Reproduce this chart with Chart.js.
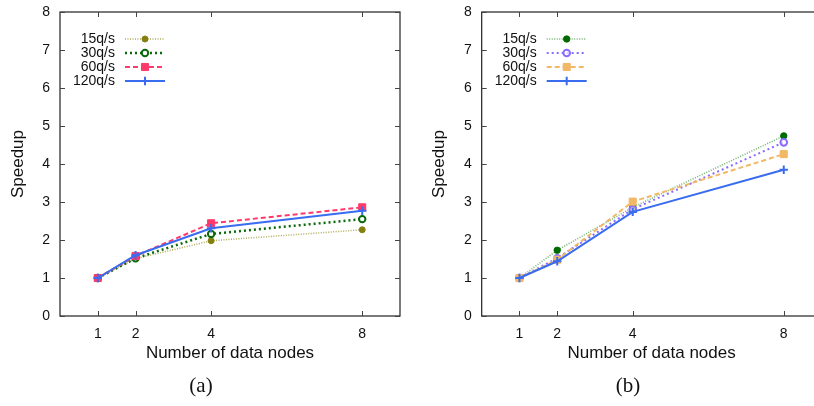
<!DOCTYPE html>
<html>
<head>
<meta charset="utf-8">
<script src="https://cdn.jsdelivr.net/npm/chart.js@4"></script>
<style>
  html, body { margin: 0; padding: 0; background: #fff; }
  body { width: 814px; height: 406px; overflow: hidden; position: relative; }
  .panel { position: absolute; top: 0; width: 420px; height: 406px; }
  .caption { position: absolute; top: 373px; font-family: "Liberation Serif", "DejaVu Serif", serif; font-size: 21px; color: #111; transform: translateX(-50%); }
</style>
</head>
<body>
<div class="panel" style="left:0"><canvas id="chartA" width="420" height="406"></canvas></div>
<div class="panel" style="left:420px"><canvas id="chartB" width="420" height="406"></canvas></div>
<div class="caption" style="left:201px">(a)</div>
<div class="caption" style="left:628px">(b)</div>
<script>
// x positions: number of data nodes
const nodes = [1, 2, 4, 8];
const seriesLabels = ['15q/s', '30q/s', '60q/s', '120q/s'];

// panel (a)
const speedupA15 = [1.00, 1.51, 1.98, 2.27];
const speedupA30 = [1.00, 1.52, 2.16, 2.55];
const speedupA60 = [1.00, 1.58, 2.44, 2.86];
const speedupA120 = [1.00, 1.60, 2.31, 2.77];

// panel (b)
const speedupB15 = [1.00, 1.73, 2.86, 4.74];
const speedupB30 = [1.00, 1.52, 2.81, 4.57];
const speedupB60 = [1.00, 1.48, 3.01, 4.26];
const speedupB120 = [1.00, 1.44, 2.74, 3.85];

const yTickValues = [0, 1, 2, 3, 4, 5, 6, 7, 8];
const xTickValues = [1, 2, 4, 8];

const SANS = '"Liberation Sans", Arial, Helvetica, sans-serif';

function toPoints(values) {
  return nodes.map((n, i) => ({ x: n, y: values[i] }));
}

// Frame, inward ticks on all four sides, axis titles and the key
const framePlugin = {
  id: 'gnuplotFrame',
  afterDraw(chart) {
    const { ctx, chartArea: a, scales } = chart;
    const xs = scales.x, ys = scales.y;
    ctx.save();
    ctx.strokeStyle = '#222';
    ctx.lineWidth = 1.2;
    ctx.setLineDash([]);
    ctx.strokeRect(a.left, a.top, a.right - a.left, a.bottom - a.top);
    ctx.lineWidth = 1;
    ctx.strokeStyle = '#444';
    const tl = 5;
    ctx.beginPath();
    yTickValues.forEach(v => {
      const y = Math.round(ys.getPixelForValue(v)) + 0.5;
      ctx.moveTo(a.left, y); ctx.lineTo(a.left + tl, y);
      ctx.moveTo(a.right, y); ctx.lineTo(a.right - tl, y);
    });
    xTickValues.forEach(v => {
      const x = Math.round(xs.getPixelForValue(v)) + 0.5;
      ctx.moveTo(x, a.bottom); ctx.lineTo(x, a.bottom - tl);
      ctx.moveTo(x, a.top); ctx.lineTo(x, a.top + tl);
    });
    ctx.stroke();

    // axis titles
    ctx.fillStyle = '#111';
    ctx.font = '17px ' + SANS;
    ctx.textAlign = 'center';
    ctx.textBaseline = 'middle';
    ctx.fillText('Number of data nodes', (a.left + a.right) / 2, 353);
    ctx.save();
    ctx.translate(a.left - 42, (a.top + a.bottom) / 2);
    ctx.rotate(-Math.PI / 2);
    ctx.fillText('Speedup', 0, 0);
    ctx.restore();

    // key: right-aligned labels followed by line samples
    ctx.font = '14px ' + SANS;
    ctx.textAlign = 'right';
    chart.data.datasets.forEach((ds, i) => {
      const y = a.top + 27 + i * 14;
      ctx.fillStyle = '#111';
      ctx.fillText(ds.label, a.left + 55, y);
      ctx.strokeStyle = ds.borderColor;
      ctx.lineWidth = ds.borderWidth;
      ctx.setLineDash(ds.borderDash || []);
      ctx.beginPath();
      ctx.moveTo(a.left + 65, y);
      ctx.lineTo(a.left + 105, y);
      ctx.stroke();
      ctx.setLineDash([]);
      ctx.fillStyle = ds.pointBackgroundColor;
      ctx.strokeStyle = ds.pointBorderColor;
      ctx.lineWidth = ds.pointBorderWidth;
      Chart.helpers.drawPoint(ctx, {
        pointStyle: ds.pointStyle, radius: ds.pointRadius,
        rotation: 0, borderWidth: ds.pointBorderWidth
      }, a.left + 85, y);
    });
    ctx.restore();
  }
};

// later series are painted over earlier ones
function series(label, values, idx, o) {
  return {
    label, data: toPoints(values), order: 10 - idx,
    borderColor: o.line, borderWidth: o.width, borderDash: o.dash,
    pointStyle: o.style, pointRadius: o.r, pointHoverRadius: o.r,
    pointBackgroundColor: o.fill, pointBorderColor: o.pt, pointBorderWidth: o.pw,
    tension: 0, fill: false
  };
}

// builds one panel and nudges the padding so the plot frame lands on the wanted box
function makeChart(id, datasets, box) {
  const chart = new Chart(document.getElementById(id), {
    type: 'line',
    data: { datasets },
    options: {
      responsive: false, animation: false, events: [],
      layout: { padding: { left: box.left - 40, right: 420 - box.right, top: box.top, bottom: 406 - box.bottom - 30 } },
      plugins: { legend: { display: false }, tooltip: { enabled: false } },
      scales: {
        x: {
          type: 'linear', min: 0, max: 9,
          afterBuildTicks: s => { s.ticks = xTickValues.map(v => ({ value: v })); },
          afterFit: s => { s.height = 30; s.paddingLeft = 0; s.paddingRight = 0; },
          grid: { display: false, drawTicks: false }, border: { display: false },
          ticks: { font: { family: SANS, size: 14 }, color: '#111', padding: 10, maxRotation: 0 }
        },
        y: {
          type: 'linear', min: 0, max: 8,
          afterBuildTicks: s => { s.ticks = yTickValues.map(v => ({ value: v })); },
          afterFit: s => { s.width = 40; s.paddingTop = 0; s.paddingBottom = 0; },
          grid: { display: false, drawTicks: false }, border: { display: false },
          ticks: { font: { family: SANS, size: 14 }, color: '#111', padding: 10 }
        }
      }
    },
    plugins: [framePlugin]
  });
  const a = chart.chartArea, p = chart.options.layout.padding;
  p.top -= a.top - box.top;
  p.bottom += a.bottom - box.bottom;
  p.left -= a.left - box.left;
  p.right += a.right - box.right;
  chart.update();
  return chart;
}

makeChart('chartA', [
  series(seriesLabels[0], speedupA15, 0, { line: 'rgba(140,135,20,0.7)', width: 1.5, dash: [1, 1.5], style: 'circle', r: 3, fill: '#857f10', pt: '#857f10', pw: 1 }),
  series(seriesLabels[1], speedupA30, 1, { line: '#0a6a0a', width: 2.5, dash: [2, 3], style: 'circle', r: 3.2, fill: '#ffffff', pt: '#0a6a0a', pw: 2 }),
  series(seriesLabels[2], speedupA60, 2, { line: '#ff3a6a', width: 2, dash: [5, 3], style: 'rect', r: 5, fill: '#ff3a6a', pt: '#ff3a6a', pw: 1 }),
  series(seriesLabels[3], speedupA120, 3, { line: '#3a6cf0', width: 2, dash: [], style: 'cross', r: 4.2, fill: '#3a6cf0', pt: '#3a6cf0', pw: 2 })
], { left: 60, right: 400, top: 12, bottom: 316 });

makeChart('chartB', [
  series(seriesLabels[0], speedupB15, 0, { line: 'rgba(60,150,60,0.75)', width: 1.5, dash: [1, 1.5], style: 'circle', r: 3.2, fill: '#006a00', pt: '#006a00', pw: 1 }),
  series(seriesLabels[1], speedupB30, 1, { line: '#8a6cff', width: 2, dash: [2, 3], style: 'circle', r: 3.3, fill: 'rgba(255,255,255,0.7)', pt: '#8a6cff', pw: 2 }),
  series(seriesLabels[2], speedupB60, 2, { line: '#f2b866', width: 2, dash: [5, 3], style: 'rect', r: 5, fill: '#f2b866', pt: '#f2b866', pw: 1 }),
  series(seriesLabels[3], speedupB120, 3, { line: '#3a6cf0', width: 2, dash: [], style: 'cross', r: 4.2, fill: '#3a6cf0', pt: '#3a6cf0', pw: 2 })
], { left: 61.7, right: 401.5, top: 12, bottom: 316 });
</script>
</body>
</html>
